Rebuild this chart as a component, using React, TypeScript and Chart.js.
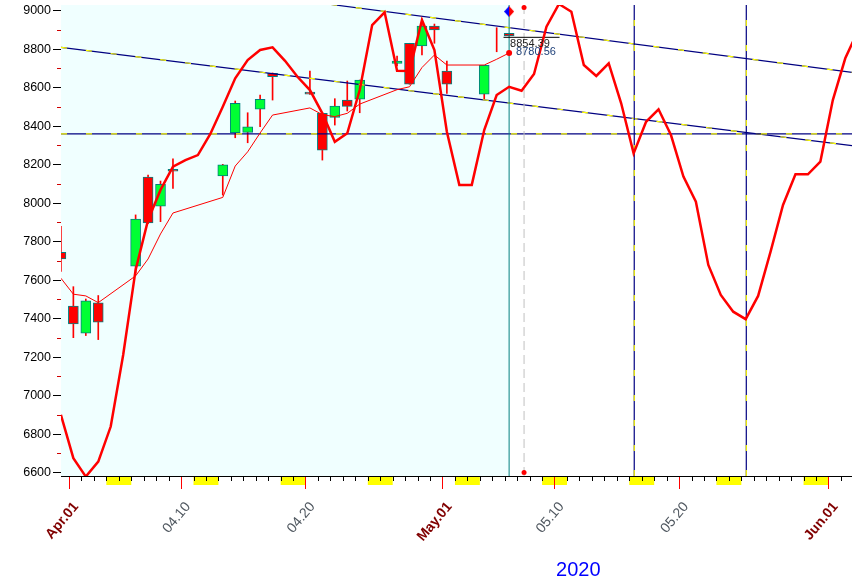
import React, { useEffect, useRef } from 'react';
import { Chart, registerables } from 'chart.js';

Chart.register(...registerables);

// ---------- data ----------
const X_SHIFT = 0.35; // data points sit 0.35 day after each day tick
const X_MIN = -0.643;
const X_MAX = 62.89;
const Y_MIN = 6582;
const Y_MAX = 9030;

// candles (day index from Apr 1 2020)
const candleDays = [-1, 0, 1, 2, 5, 6, 7, 8, 12, 13, 14, 15, 16, 19, 20, 21, 22, 23, 26, 27, 28, 29, 30, 33, 34, 35];
const opens = [7745, 7465, 7324, 7482, 7672, 8135, 7984, 8176, 8142, 8366, 8368, 8488, 8675, 8567, 8467, 8446, 8536, 8540, 8727, 8831, 8817, 8920, 8687, 8566, null, 8883];
const highs = [7880, 7566, 7502, 7520, 7939, 8146, 8115, 8230, 8202, 8531, 8470, 8562, 8677, 8687, 8470, 8543, 8635, 8640, 8765, 8831, 8957, 8931, 8739, 8716, 8912, 8883];
const lows = [7645, 7301, 7312, 7291, 7636, 7893, 7904, 8077, 8042, 8340, 8314, 8397, 8536, 8565, 8224, 8406, 8479, 8470, 8713, 8618, 8770, 8831, 8571, 8541, 8787, 8869];
const closes = [7710, 7372, 7492, 7381, 7917, 7898, 8098, 8166, 8199, 8519, 8397, 8540, 8657, 8567, 8276, 8505, 8503, 8640, 8739, 8618, 8920, 8900, 8618, 8716, null, 8869];

// thick projection curve (daily)
const curveDays = [-1, 0, 1, 2, 3, 4, 5, 6, 7, 8, 9, 10, 11, 12, 13, 14, 15, 16, 17, 18, 19, 20, 21, 22, 23, 24, 25, 26, 27, 28, 29, 30, 31, 32, 33, 34, 35, 36, 37, 38, 39, 40, 41, 42, 43, 44, 45, 46, 47, 48, 49, 50, 51, 52, 53, 54, 55, 56, 57, 58, 59, 60, 61, 62, 63];
const curveValues = [6900, 6675, 6579, 6657, 6839, 7211, 7653, 7913, 8069, 8190, 8224, 8250, 8360, 8501, 8649, 8744, 8796, 8810, 8740, 8657, 8588, 8467, 8319, 8363, 8588, 8926, 8992, 8688, 8687, 8952, 8796, 8371, 8095, 8095, 8380, 8562, 8605, 8584, 8671, 8917, 9035, 8995, 8718, 8661, 8727, 8519, 8259, 8423, 8488, 8354, 8138, 8008, 7679, 7523, 7436, 7397, 7518, 7748, 7991, 8150, 8150, 8216, 8536, 8753, 8894];

// thin moving-average line
const maDays = [-1, 0, 1, 2, 5, 6, 7, 8, 12, 13, 14, 15, 16, 19, 20, 21, 22, 23, 26, 27, 28, 29, 30, 33, 34, 35];
const maValues = [7610, 7527, 7518, 7483, 7622, 7710, 7840, 7949, 8030, 8193, 8267, 8365, 8458, 8495, 8460, 8450, 8467, 8515, 8590, 8605, 8705, 8770, 8718, 8718, 8748, 8780.56];

// axis ticks
const xTickDays = [0, 9, 19, 30, 39, 49, 61];
const xTickLabels = ['Apr.01', '04.10', '04.20', 'May.01', '05.10', '05.20', 'Jun.01'];
const xTickMonth = [true, false, false, true, false, false, true];
const weekendStarts = [3, 10, 17, 24, 31, 38, 45, 52, 59];
const yMajorTicks = [6600, 6800, 7000, 7200, 7400, 7600, 7800, 8000, 8200, 8400, 8600, 8800, 9000];
const yMinorTicks = [6700, 6900, 7100, 7300, 7500, 7700, 7900, 8100, 8300, 8500, 8700, 8900];

// drawn studies
const upperTrendX = [21.04, 62.89];
const upperTrendY = [9033, 8680];
const lowerTrendX = [-0.643, 62.89];
const lowerTrendY = [8810, 8299];
const levelY = 8360;
const cycleLinesX = [45.4, 54.4];
const lastBarX = 35.35;
const cursorX = 36.55;
const cursorDotsY = [9017, 6600];
const diamondY = 8996;
const labelLineX = [34.9, 39.4];
const labelLineY = 8862;
const lastClose = 8854.39;
const lastMa = 8780.56;
const yearLabel = '2020';

const FONT = '"Liberation Sans", Arial, sans-serif';
const NAVY = '#000080';
const YELLOW = '#ffff00';

function isMonthTick(c: any): boolean {
  const v = c && c.tick ? c.tick.value : null;
  const i = xTickDays.indexOf(v);
  return i >= 0 && xTickMonth[i];
}

function dashedStudy(xs: number[], ys: number[], order: number) {
  const data = xs.map((x, i) => ({ x, y: ys[i] }));
  return [
    { type: 'line', data, borderColor: NAVY, borderWidth: 1.2, pointRadius: 0, order },
    { type: 'line', data, borderColor: YELLOW, borderWidth: 1.2, borderDash: [6, 19], pointRadius: 0, order: order - 0.5 },
  ];
}

function makeDiamond(): HTMLCanvasElement {
  const c = document.createElement('canvas');
  c.width = 10;
  c.height = 11;
  const g = c.getContext('2d')!;
  g.fillStyle = '#0000ff';
  g.beginPath();
  g.moveTo(5, 0); g.lineTo(0, 5.5); g.lineTo(5, 11); g.closePath(); g.fill();
  g.fillStyle = '#ff0000';
  g.beginPath();
  g.moveTo(5, 0); g.lineTo(10, 5.5); g.lineTo(5, 11); g.closePath(); g.fill();
  return c;
}

const decorPlugin = {
  id: 'decor',
  beforeDraw(chart: any) {
    const { ctx, scales } = chart;
    const xs = scales.x;
    const bottom = chart.chartArea.bottom;
    ctx.save();
    ctx.fillStyle = YELLOW;
    weekendStarts.forEach((d) => {
      const a = xs.getPixelForValue(d);
      const b = xs.getPixelForValue(d + 2);
      ctx.fillRect(a, bottom + 1, b - a, 8);
    });
    ctx.restore();
  },
  beforeDatasetsDraw(chart: any) {
    const { ctx, chartArea, scales } = chart;
    const px = scales.x.getPixelForValue(lastBarX);
    ctx.save();
    ctx.fillStyle = '#f0ffff';
    ctx.fillRect(chartArea.left, chartArea.top, px - chartArea.left, chartArea.bottom - chartArea.top);
    ctx.restore();
  },
  afterDraw(chart: any) {
    const { ctx, chartArea, scales } = chart;
    const xs = scales.x;
    const ys = scales.y;
    ctx.save();
    ctx.strokeStyle = '#000';
    ctx.lineWidth = 1;
    for (let d = 0; d <= 62; d++) {
      if (xTickDays.includes(d)) continue;
      const p = Math.round(xs.getPixelForValue(d)) + 0.5;
      ctx.beginPath();
      ctx.moveTo(p, chartArea.bottom);
      ctx.lineTo(p, chartArea.bottom + 5);
      ctx.stroke();
    }
    ctx.strokeStyle = '#d00000';
    yMinorTicks.forEach((v) => {
      const p = Math.round(ys.getPixelForValue(v)) + 0.5;
      ctx.beginPath();
      ctx.moveTo(chartArea.left - 4, p);
      ctx.lineTo(chartArea.left, p);
      ctx.stroke();
    });
    const lx = xs.getPixelForValue(lastBarX);
    ctx.font = '11px ' + FONT;
    ctx.textAlign = 'left';
    ctx.textBaseline = 'top';
    ctx.fillStyle = '#222';
    ctx.fillText(lastClose.toFixed(2), lx + 1, ys.getPixelForValue(lastClose));
    ctx.textBaseline = 'alphabetic';
    ctx.fillStyle = '#1d3f78';
    ctx.fillText(lastMa.toFixed(2), lx + 7, ys.getPixelForValue(lastMa) + 2);
    ctx.font = '20px ' + FONT;
    ctx.fillStyle = '#0000ff';
    ctx.textAlign = 'center';
    ctx.fillText(yearLabel, chartArea.left + 0.654 * (chartArea.right - chartArea.left), chart.height - 5);
    ctx.restore();
  },
};

export default function App() {
  const ref = useRef<HTMLCanvasElement | null>(null);

  useEffect(() => {
    if (!ref.current) return;

    const bodyData: any[] = [];
    const bodyColors: string[] = [];
    const wickData: any[] = [];
    candleDays.forEach((d, i) => {
      const x = d + X_SHIFT;
      wickData.push({ x, y: [lows[i], highs[i]] });
      const o = opens[i];
      const c = closes[i];
      if (o != null && c != null) {
        bodyData.push({ x, y: [o, c] });
        bodyColors.push(c > o ? '#00ff33' : '#ff0000');
      }
    });

    const curveData = curveDays.map((d, i) => ({ x: d + X_SHIFT, y: curveValues[i] }));
    const maData = maDays.map((d, i) => ({ x: d + X_SHIFT, y: maValues[i] }));
    const lastMaIdx = maData.length - 1;

    const datasets: any[] = [
      { type: 'bar', data: wickData, backgroundColor: '#ff0000', borderWidth: 0, barThickness: 1, grouped: false, order: 30 },
      { type: 'bar', data: bodyData, backgroundColor: bodyColors, borderColor: '#008080', borderWidth: 1, borderSkipped: false, barThickness: 10, minBarLength: 2, grouped: false, order: 29 },
      ...dashedStudy(upperTrendX, upperTrendY, 20),
      ...dashedStudy(lowerTrendX, lowerTrendY, 18),
      ...dashedStudy([X_MIN, X_MAX], [levelY, levelY], 16),
      ...dashedStudy([cycleLinesX[0], cycleLinesX[0]], [Y_MIN, Y_MAX], 14),
      ...dashedStudy([cycleLinesX[1], cycleLinesX[1]], [Y_MIN, Y_MAX], 12),
      { type: 'line', data: [{ x: lastBarX, y: Y_MIN }, { x: lastBarX, y: Y_MAX }], borderColor: '#008080', borderWidth: 1, pointRadius: 0, order: 10 },
      { type: 'line', data: [{ x: cursorX, y: Y_MIN }, { x: cursorX, y: Y_MAX }], borderColor: '#c0c0c0', borderWidth: 1, borderDash: [9, 5], pointRadius: 0, order: 9 },
      { type: 'line', data: labelLineX.map((x) => ({ x, y: labelLineY })), borderColor: '#000', borderWidth: 1, pointRadius: 0, order: 8 },
      { type: 'line', data: maData, borderColor: '#ff0000', borderWidth: 1, tension: 0,
        pointRadius: (c: any) => (c.dataIndex === lastMaIdx ? 3 : 0), pointBackgroundColor: '#ff0000', pointBorderWidth: 0, order: 6 },
      { type: 'line', data: curveData, borderColor: '#ff0000', borderWidth: 2.5, tension: 0, pointRadius: 0, order: 4 },
      { type: 'line', data: cursorDotsY.map((y) => ({ x: cursorX, y })), showLine: false, pointRadius: 2.5, pointBackgroundColor: '#ff0000', pointBorderWidth: 0, order: 2 },
      { type: 'line', data: [{ x: lastBarX, y: diamondY }], showLine: false, pointStyle: makeDiamond(), order: 1 },
    ];

    const chart = new Chart(ref.current, {
      type: 'bar',
      data: { datasets },
      options: {
        responsive: false,
        animation: false,
        devicePixelRatio: 1,
        events: [],
        layout: { autoPadding: false, padding: { top: 5, left: 0, right: 0, bottom: 0 } },
        plugins: { legend: { display: false }, tooltip: { enabled: false } },
        scales: {
          x: {
            type: 'linear',
            min: X_MIN,
            max: X_MAX,
            offset: false,
            afterBuildTicks: (s: any) => {
              s.ticks = xTickDays.map((v) => ({ value: v }));
            },
            afterFit: (s: any) => {
              s.height = 105;
              s.paddingLeft = 0;
              s.paddingRight = 0;
            },
            grid: { display: true, drawOnChartArea: false, drawTicks: true, tickLength: 13, tickColor: '#ff0000', offset: false },
            border: { display: true, color: '#000', width: 1 },
            ticks: {
              autoSkip: false,
              minRotation: 50,
              maxRotation: 50,
              padding: 10,
              labelOffset: 7,
              callback: (v: any) => {
                const i = xTickDays.indexOf(Number(v));
                return i >= 0 ? xTickLabels[i] : '';
              },
              color: (c: any) => (isMonthTick(c) ? '#800000' : '#505860'),
              font: (c: any) => ({
                family: FONT,
                size: 14,
                weight: isMonthTick(c) ? 'bold' : 'normal',
              }),
            },
          },
          y: {
            type: 'linear',
            min: Y_MIN,
            max: Y_MAX,
            afterBuildTicks: (s: any) => {
              s.ticks = yMajorTicks.map((v) => ({ value: v }));
            },
            afterFit: (s: any) => {
              s.width = 61;
              s.paddingTop = 0;
              s.paddingBottom = 0;
            },
            grid: { display: true, drawOnChartArea: false, drawTicks: true, tickLength: 8, tickColor: '#000' },
            border: { display: true, color: '#000', width: 1 },
            ticks: {
              color: '#000',
              padding: 2,
              font: { family: FONT, size: 12.5 },
              callback: (v: any) => String(v),
            },
          },
        },
      } as any,
      plugins: [decorPlugin],
    } as any);

    return () => chart.destroy();
  }, []);

  return (
    <div style={{ position: 'fixed', left: 0, top: 0, width: 852, height: 581, background: '#fff' }}>
      <canvas ref={ref} width={852} height={581} style={{ display: 'block', width: 852, height: 581 }} />
    </div>
  );
}
